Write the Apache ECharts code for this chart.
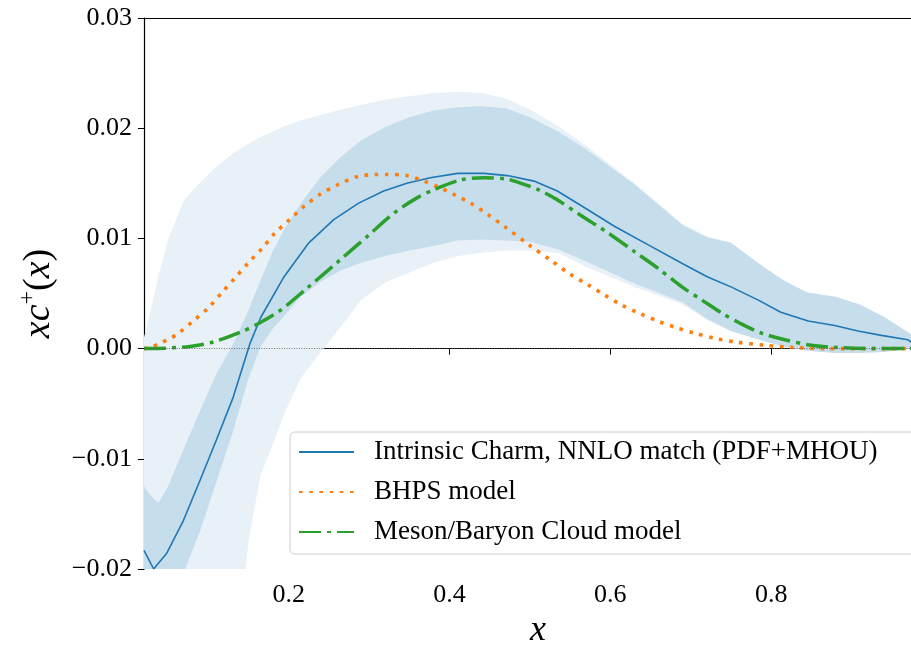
<!DOCTYPE html>
<html>
<head>
<meta charset="utf-8">
<script src="https://cdn.jsdelivr.net/npm/echarts@6/dist/echarts.min.js"></script>
<style>
  body { margin: 0; background: #fff; }
  #chart { width: 911px; height: 645px; }
</style>
</head>
<body>
<div id="chart"></div>
<script>
// central curve (Intrinsic Charm, NNLO match)
const xCentral = [0.020, 0.032, 0.048, 0.069, 0.090, 0.110, 0.131, 0.152, 0.165, 0.194, 0.225, 0.256, 0.287, 0.318, 0.347, 0.376, 0.410, 0.443, 0.472, 0.505, 0.534, 0.572, 0.605, 0.650, 0.690, 0.721, 0.750, 0.784, 0.812, 0.846, 0.879, 0.908, 0.937, 0.970, 0.976];
const yCentral = [-0.0183, -0.0200, -0.0186, -0.0156, -0.0119, -0.0083, -0.0044, 0.0005, 0.0028, 0.0065, 0.0096, 0.0117, 0.0132, 0.0143, 0.0150, 0.0155, 0.0159, 0.0159, 0.0157, 0.0152, 0.0143, 0.0126, 0.0111, 0.0093, 0.0077, 0.0065, 0.0056, 0.0044, 0.0033, 0.0025, 0.0021, 0.0016, 0.0012, 0.0008, 0.0005];

// uncertainty bands (light = outer, dark = inner)
const bandX   = [0.020, 0.030, 0.038, 0.050, 0.070, 0.090, 0.110, 0.130, 0.150, 0.165, 0.180, 0.195, 0.215, 0.240, 0.265, 0.290, 0.320, 0.350, 0.380, 0.410, 0.440, 0.470, 0.500, 0.535, 0.570, 0.630, 0.690, 0.720, 0.750, 0.785, 0.815, 0.845, 0.880, 0.910, 0.940, 0.976];
const lightHi = [0.0010, 0.0040, 0.0066, 0.0099, 0.0135, 0.0151, 0.0165, 0.0177, 0.0186, 0.0192, 0.0197, 0.0202, 0.0207, 0.0212, 0.0217, 0.0221, 0.0226, 0.0229, 0.0232, 0.0233, 0.0232, 0.0227, 0.0217, 0.0202, 0.0184, 0.0150, 0.0113, 0.0102, 0.0096, 0.0077, 0.0062, 0.0051, 0.0047, 0.0040, 0.0029, 0.0012];
const lightLo = [-0.0450, -0.0450, -0.0450, -0.0450, -0.0450, -0.0450, -0.0420, -0.0320, -0.0174, -0.0115, -0.0087, -0.0058, -0.0027, -0.0003, 0.0020, 0.0044, 0.0060, 0.0069, 0.0078, 0.0084, 0.0087, 0.0089, 0.0089, 0.0087, 0.0074, 0.0056, 0.0040, 0.0026, 0.0016, 0.0008, 0.0002, -0.0002, -0.0004, -0.0004, -0.0003, 0.0000];
const darkHi  = [-0.0125, -0.0135, -0.0140, -0.0125, -0.0090, -0.0056, -0.0023, 0.0003, 0.0035, 0.0062, 0.0088, 0.0109, 0.0132, 0.0156, 0.0174, 0.0189, 0.0201, 0.0210, 0.0216, 0.0219, 0.0220, 0.0218, 0.0210, 0.0197, 0.0181, 0.0149, 0.0112, 0.0101, 0.0096, 0.0077, 0.0062, 0.0051, 0.0047, 0.0040, 0.0029, 0.0012];
const darkLo  = [-0.0310, -0.0290, -0.0270, -0.0245, -0.0202, -0.0165, -0.0121, -0.0077, -0.0027, 0.0002, 0.0018, 0.0030, 0.0047, 0.0061, 0.0071, 0.0078, 0.0084, 0.0089, 0.0093, 0.0098, 0.0099, 0.0098, 0.0097, 0.0090, 0.0079, 0.0059, 0.0042, 0.0027, 0.0016, 0.0008, 0.0002, -0.0002, -0.0004, -0.0004, -0.0003, 0.0000];

// BHPS model
const xBHPS = [0.020, 0.028, 0.040, 0.052, 0.063, 0.081, 0.100, 0.117, 0.133, 0.150, 0.167, 0.183, 0.201, 0.219, 0.239, 0.262, 0.285, 0.308, 0.322, 0.347, 0.368, 0.385, 0.405, 0.426, 0.447, 0.468, 0.499, 0.528, 0.549, 0.572, 0.592, 0.613, 0.636, 0.659, 0.682, 0.705, 0.732, 0.756, 0.792, 0.829, 0.867, 0.920, 0.976];
const yBHPS = [0.0000, 0.0001, 0.0005, 0.0009, 0.0014, 0.0025, 0.0037, 0.0051, 0.0064, 0.0078, 0.0091, 0.0105, 0.0117, 0.0129, 0.0140, 0.0149, 0.0156, 0.0158, 0.0158, 0.0157, 0.0152, 0.0147, 0.0140, 0.0132, 0.0122, 0.0111, 0.0094, 0.0079, 0.0068, 0.0058, 0.0049, 0.0040, 0.0032, 0.0025, 0.0019, 0.0014, 0.0009, 0.0006, 0.0003, 0.0001, 0.0000, 0.0000, 0.0000];

// Meson/Baryon Cloud model
const xMBC = [0.020, 0.028, 0.077, 0.106, 0.140, 0.163, 0.190, 0.223, 0.260, 0.298, 0.331, 0.360, 0.380, 0.414, 0.443, 0.470, 0.489, 0.511, 0.534, 0.563, 0.597, 0.630, 0.659, 0.689, 0.714, 0.739, 0.764, 0.788, 0.817, 0.850, 0.883, 0.930, 0.976];
const yMBC = [0.0000, 0.0000, 0.0002, 0.0006, 0.0015, 0.0023, 0.0035, 0.0055, 0.0078, 0.0102, 0.0123, 0.0137, 0.0144, 0.0153, 0.0155, 0.0154, 0.0150, 0.0144, 0.0135, 0.0121, 0.0105, 0.0088, 0.0073, 0.0056, 0.0044, 0.0032, 0.0022, 0.0014, 0.0008, 0.0003, 0.0001, 0.0000, 0.0000];

const xTicks = [0.2, 0.4, 0.6, 0.8];
const legendNames = ['Intrinsic Charm, NNLO match (PDF+MHOU)', 'BHPS model', 'Meson/Baryon Cloud model'];

const FONT = 'Liberation Serif';

function zip(xs, ys) {
  return xs.map((x, i) => [x, ys[i]]);
}
// filled band between lo and hi, drawn as one polygon through the axes
function bandSeries(name, lo, hi, color) {
  return {
    type: 'custom', name: name, silent: true, clip: true,
    data: bandX.map((x, i) => [x, lo[i], hi[i]]),
    encode: { x: 0, y: [1, 2] },
    renderItem: function (params, api) {
      if (params.dataIndex !== 0) return null;
      let pts = [];
      for (let i = 0; i < bandX.length; i++) pts.push(api.coord([bandX[i], hi[i]]));
      for (let i = bandX.length - 1; i >= 0; i--) pts.push(api.coord([bandX[i], lo[i]]));
      return { type: 'polygon', shape: { points: pts }, style: { fill: color, stroke: null } };
    }
  };
}

const chart = echarts.init(document.getElementById('chart'));

const option = {
  animation: false,
  textStyle: { fontFamily: FONT },
  grid: { left: 144, right: -21, top: 18, bottom: 76, outerBoundsMode: 'none', containLabel: false },
  legend: {
    data: legendNames,
    orient: 'vertical',
    left: 290,
    top: 432,
    itemWidth: 55,
    itemHeight: 14,
    itemGap: 12,
    padding: [6, 100, 8, 8],
    borderColor: '#cccccc',
    borderWidth: 1,
    borderRadius: 5,
    backgroundColor: 'rgba(255,255,255,0.8)',
    itemStyle: { opacity: 0 },
    textStyle: { fontFamily: FONT, fontSize: 27, color: '#000', lineHeight: 28, padding: [0, 0, 0, 15] }
  },
  xAxis: [{
    type: 'value', min: 0.02, max: 1.0,
    name: 'x', nameLocation: 'middle', nameGap: 44,
    nameTextStyle: { fontFamily: FONT, fontStyle: 'italic', fontSize: 36, color: '#000' },
    splitLine: { show: false },
    axisLine: { show: true, lineStyle: { color: '#000', width: 1.2 } },
    axisTick: { show: true, length: 6, inside: false, customValues: xTicks, lineStyle: { color: '#000' } },
    axisLabel: { customValues: xTicks, margin: 13, fontSize: 26, color: '#000', fontFamily: FONT,
                 formatter: v => v.toFixed(1) }
  }, {
    type: 'value', position: 'top', min: 0.02, max: 1.0,
    axisLine: { show: true, lineStyle: { color: '#000', width: 1.2 } },
    axisTick: { show: false }, axisLabel: { show: false }, splitLine: { show: false }
  }],
  yAxis: {
    type: 'value', min: -0.02, max: 0.03, interval: 0.01,
    name: '{i|xc}{s|+}{r|(}{i|x}{r|)}', nameLocation: 'middle', nameGap: 86, nameRotate: 90,
    nameTextStyle: {
      rich: {
        i: { fontFamily: FONT, fontStyle: 'italic', fontSize: 38, color: '#000', verticalAlign: 'bottom' },
        r: { fontFamily: FONT, fontSize: 38, color: '#000', verticalAlign: 'bottom' },
        s: { fontFamily: FONT, fontSize: 24, color: '#000', verticalAlign: 'bottom', padding: [0, 0, 18, 0] }
      }
    },
    splitLine: { show: false },
    axisLine: { show: true, lineStyle: { color: '#000', width: 1.2 } },
    axisTick: { show: true, length: 6, inside: false, lineStyle: { color: '#000' } },
    axisLabel: {
      margin: 12, fontSize: 26, color: '#000', fontFamily: FONT,
      formatter: v => {
        let s = Math.abs(v) < 1e-9 ? '0.00' : v.toFixed(2);
        return s.replace('-', '\u2212');
      }
    }
  },
  series: [
    bandSeries('light band', lightLo, lightHi, '#e8f1f8'),
    bandSeries('dark band', darkLo, darkHi, '#c6ddeb'),
    {
      type: 'line', name: legendNames[0], data: zip(xCentral, yCentral),
      symbol: 'none', color: '#1f77b4',
      lineStyle: { color: '#1f77b4', width: 1.6 },
      markLine: {
        silent: true, symbol: 'none', label: { show: false },
        lineStyle: { color: '#555', width: 0.8, type: [1, 1.5] },
        data: [{ yAxis: 0 }]
      }
    },
    {
      type: 'line', name: legendNames[1], data: zip(xBHPS, yBHPS),
      symbol: 'none', smooth: 0.3, color: '#ff7f0e',
      lineStyle: { color: '#ff7f0e', width: 3.6, type: [3.6, 6.6], cap: 'butt' }
    },
    {
      type: 'line', name: legendNames[2], data: zip(xMBC, yMBC),
      symbol: 'none', smooth: 0.3, color: '#2ca02c',
      lineStyle: { color: '#2ca02c', width: 3.5, type: [22, 6, 4, 6], cap: 'butt' }
    }
  ]
};

chart.setOption(option);
</script>
</body>
</html>
